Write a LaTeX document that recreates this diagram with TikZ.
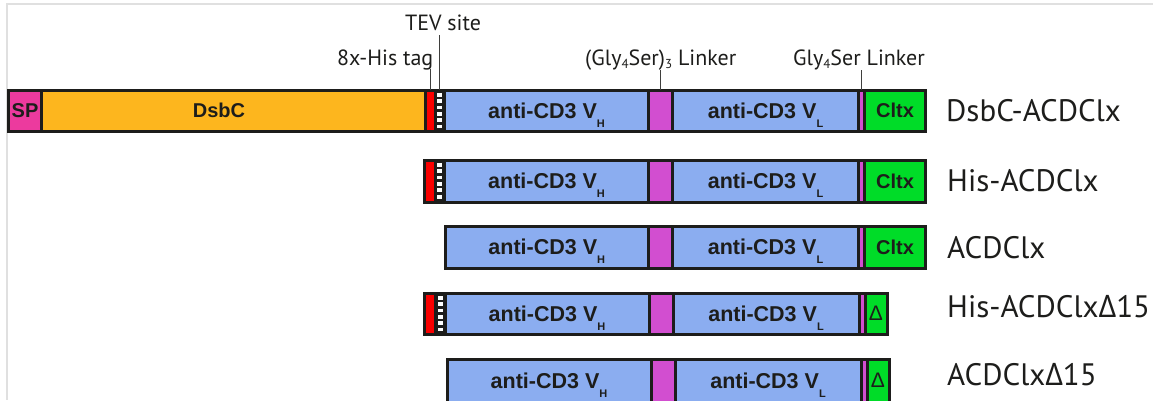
\documentclass[tikz,border=0pt]{standalone}
\usepackage{fontspec}
\setmainfont{PT Sans}
\newfontfamily\boxfont{Liberation Sans}
\newfontfamily\grkfont{Open Sans}
\usetikzlibrary{calc}

\definecolor{ink}{RGB}{29,29,27}
\definecolor{spPink}{RGB}{236,58,158}
\definecolor{dsbcOrange}{RGB}{253,182,30}
\definecolor{hisRed}{RGB}{250,0,0}
\definecolor{fvBlue}{RGB}{139,173,240}
\definecolor{linkMag}{RGB}{210,78,208}
\definecolor{cltxGreen}{RGB}{0,220,40}

% chain index under V (V_H, V_L)
\newcommand\chainidx[1]{\smash{\raisebox{-9pt}{\fontsize{11}{11}\selectfont\bfseries #1}}}
% small lowered index in the linker labels
\newcommand\lowidx[1]{\raisebox{-3.5pt}{\fontsize{13}{13}\selectfont #1}}
\newcommand\dlt{{\grkfont Δ}}

\tikzset{
  seg/.style={draw=ink, line width=3pt, inner sep=0pt, outer sep=0pt, text=ink,
    font=\boxfont\bfseries\fontsize{20}{20}\selectfont},
  fvtext/.style={font=\boxfont\bfseries\fontsize{21.5}{21.5}\selectfont},
  boxtext/.style={inner sep=0pt, text=ink, font=\boxfont\bfseries\fontsize{20}{20}\selectfont},
  rowlabel/.style={anchor=base west, inner sep=0pt, text=ink, font=\fontsize{31}{31}\selectfont},
  toplabel/.style={inner sep=0pt, text=ink, font=\fontsize{22}{22}\selectfont},
  leader/.style={draw=ink!85, line width=1.2pt},
  tevdash/.style={draw=white, line width=5pt, dash pattern=on 3.8pt off 2.6pt},
  frame/.style={draw=black!12, line width=2pt},
}

% segment box: name, left x, right x, top y, height, style, text
\newcommand\segbox[7]{%
  \node[seg,#6,minimum width={(#3)-(#2)},minimum height={#5}]
    (#1) at ({((#2)+(#3))/2},{(#4)+(#5)/2}) {#7};}

% TEV cleavage site: black column with white blocks
\newcommand\tevsite[5]{%
  \segbox{#1}{#2}{#3}{#4}{#5}{fill=ink}{}
  \draw[tevdash] ($(#1.north)+(0,2.8)$) -- ($(#1.south)+(0,-3)$);}

% scFv core: prefix, top y, height, x offset, left x of V_H
\newcommand\scfv[5]{%
  \segbox{#1vh}{#5}{648.5+#4}{#2}{#3}{fill=fvBlue,fvtext}{anti-CD3 V\chainidx{H}}
  \segbox{#1lk}{648.5+#4}{672.5+#4}{#2}{#3}{fill=linkMag}{}
  \segbox{#1vl}{672.5+#4}{858.5+#4}{#2}{#3}{fill=fvBlue,fvtext}{anti-CD3 V\chainidx{L}}
  \segbox{#1gs}{858.5+#4}{864.5+#4}{#2}{#3}{fill=linkMag}{}}

\begin{document}
\begin{tikzpicture}[x=1pt,y=-1pt]
\useasboundingbox (0,0) rectangle (1153,400);

% light frame
\draw[frame] (6.5,400) -- (6.5,4) -- (1153,4);

% DsbC-ACDClx
\segbox{r1sp}{8.5}{41.5}{90}{41}{fill=spPink}{SP}
\segbox{r1dsbc}{41.5}{425.5}{90}{41}{fill=dsbcOrange}{}
\node[boxtext] (r1dsbclab) at (219,110.5) {DsbC};
\segbox{r1his}{425.5}{435}{90}{41}{fill=hisRed}{}
\tevsite{r1tev}{435}{444.5}{90}{41}
\scfv{r1}{90}{41}{0}{444.5}
\segbox{r1clx}{864.5}{925.5}{90}{41}{fill=cltxGreen}{Cltx}
\node[rowlabel] (r1name) at (946,121) {DsbC-ACDClx};

% His-ACDClx
\segbox{r2his}{424}{435}{160}{42}{fill=hisRed}{}
\tevsite{r2tev}{435}{444.5}{160}{42}
\scfv{r2}{160}{42}{0}{444.5}
\segbox{r2clx}{864.5}{925.5}{160}{42}{fill=cltxGreen}{Cltx}
\node[rowlabel] (r2name) at (947,191.7) {His-ACDClx};

% ACDClx
\scfv{r3}{226}{42}{0}{445}
\segbox{r3clx}{864.5}{925.5}{226}{42}{fill=cltxGreen}{Cltx}
\node[rowlabel] (r3name) at (947,258) {ACDClx};

% His-ACDClx Delta15
\segbox{r4his}{424.5}{435.5}{293}{41}{fill=hisRed}{}
\tevsite{r4tev}{435.5}{445}{293}{41}
\scfv{r4}{293}{41}{0.5}{445}
\segbox{r4del}{865}{887}{293}{41}{fill=cltxGreen,font=\boxfont\fontsize{21}{21}\selectfont}{Δ}
\node[rowlabel] (r4name) at (947,317) {His-ACDClx\dlt15};

% ACDClx Delta15
\scfv{r5}{359}{43}{2.5}{447}
\segbox{r5del}{867}{889}{359}{43}{fill=cltxGreen,font=\boxfont\fontsize{21}{21}\selectfont}{Δ}
\node[rowlabel] (r5name) at (947,385) {ACDClx\dlt15};

% feature labels above the first construct
\node[toplabel, anchor=base] (tevlab) at (443,30) {TEV site};
\node[toplabel, anchor=base east] (hislab) at (433.5,65) {8x-His tag};
\node[toplabel, anchor=base west] (g3lab) at (585,65) {(Gly\lowidx{4}Ser)\lowidx{3} Linker};
\node[toplabel, anchor=base west] (g1lab) at (793,65) {Gly\lowidx{4}Ser Linker};

\draw[leader] (r1tev.north) -- ($(r1tev.north |- tevlab.base)+(0,5)$);
\draw[leader] (r1his.north) -- ($(r1his.north |- hislab.base)+(0,4)$);
\draw[leader] (r1lk.north) -- ($(r1lk.north |- g3lab.base)+(0,5)$);
\draw[leader] (r1gs.north) -- ($(r1gs.north |- g1lab.base)+(0,5)$);
\end{tikzpicture}
\end{document}
